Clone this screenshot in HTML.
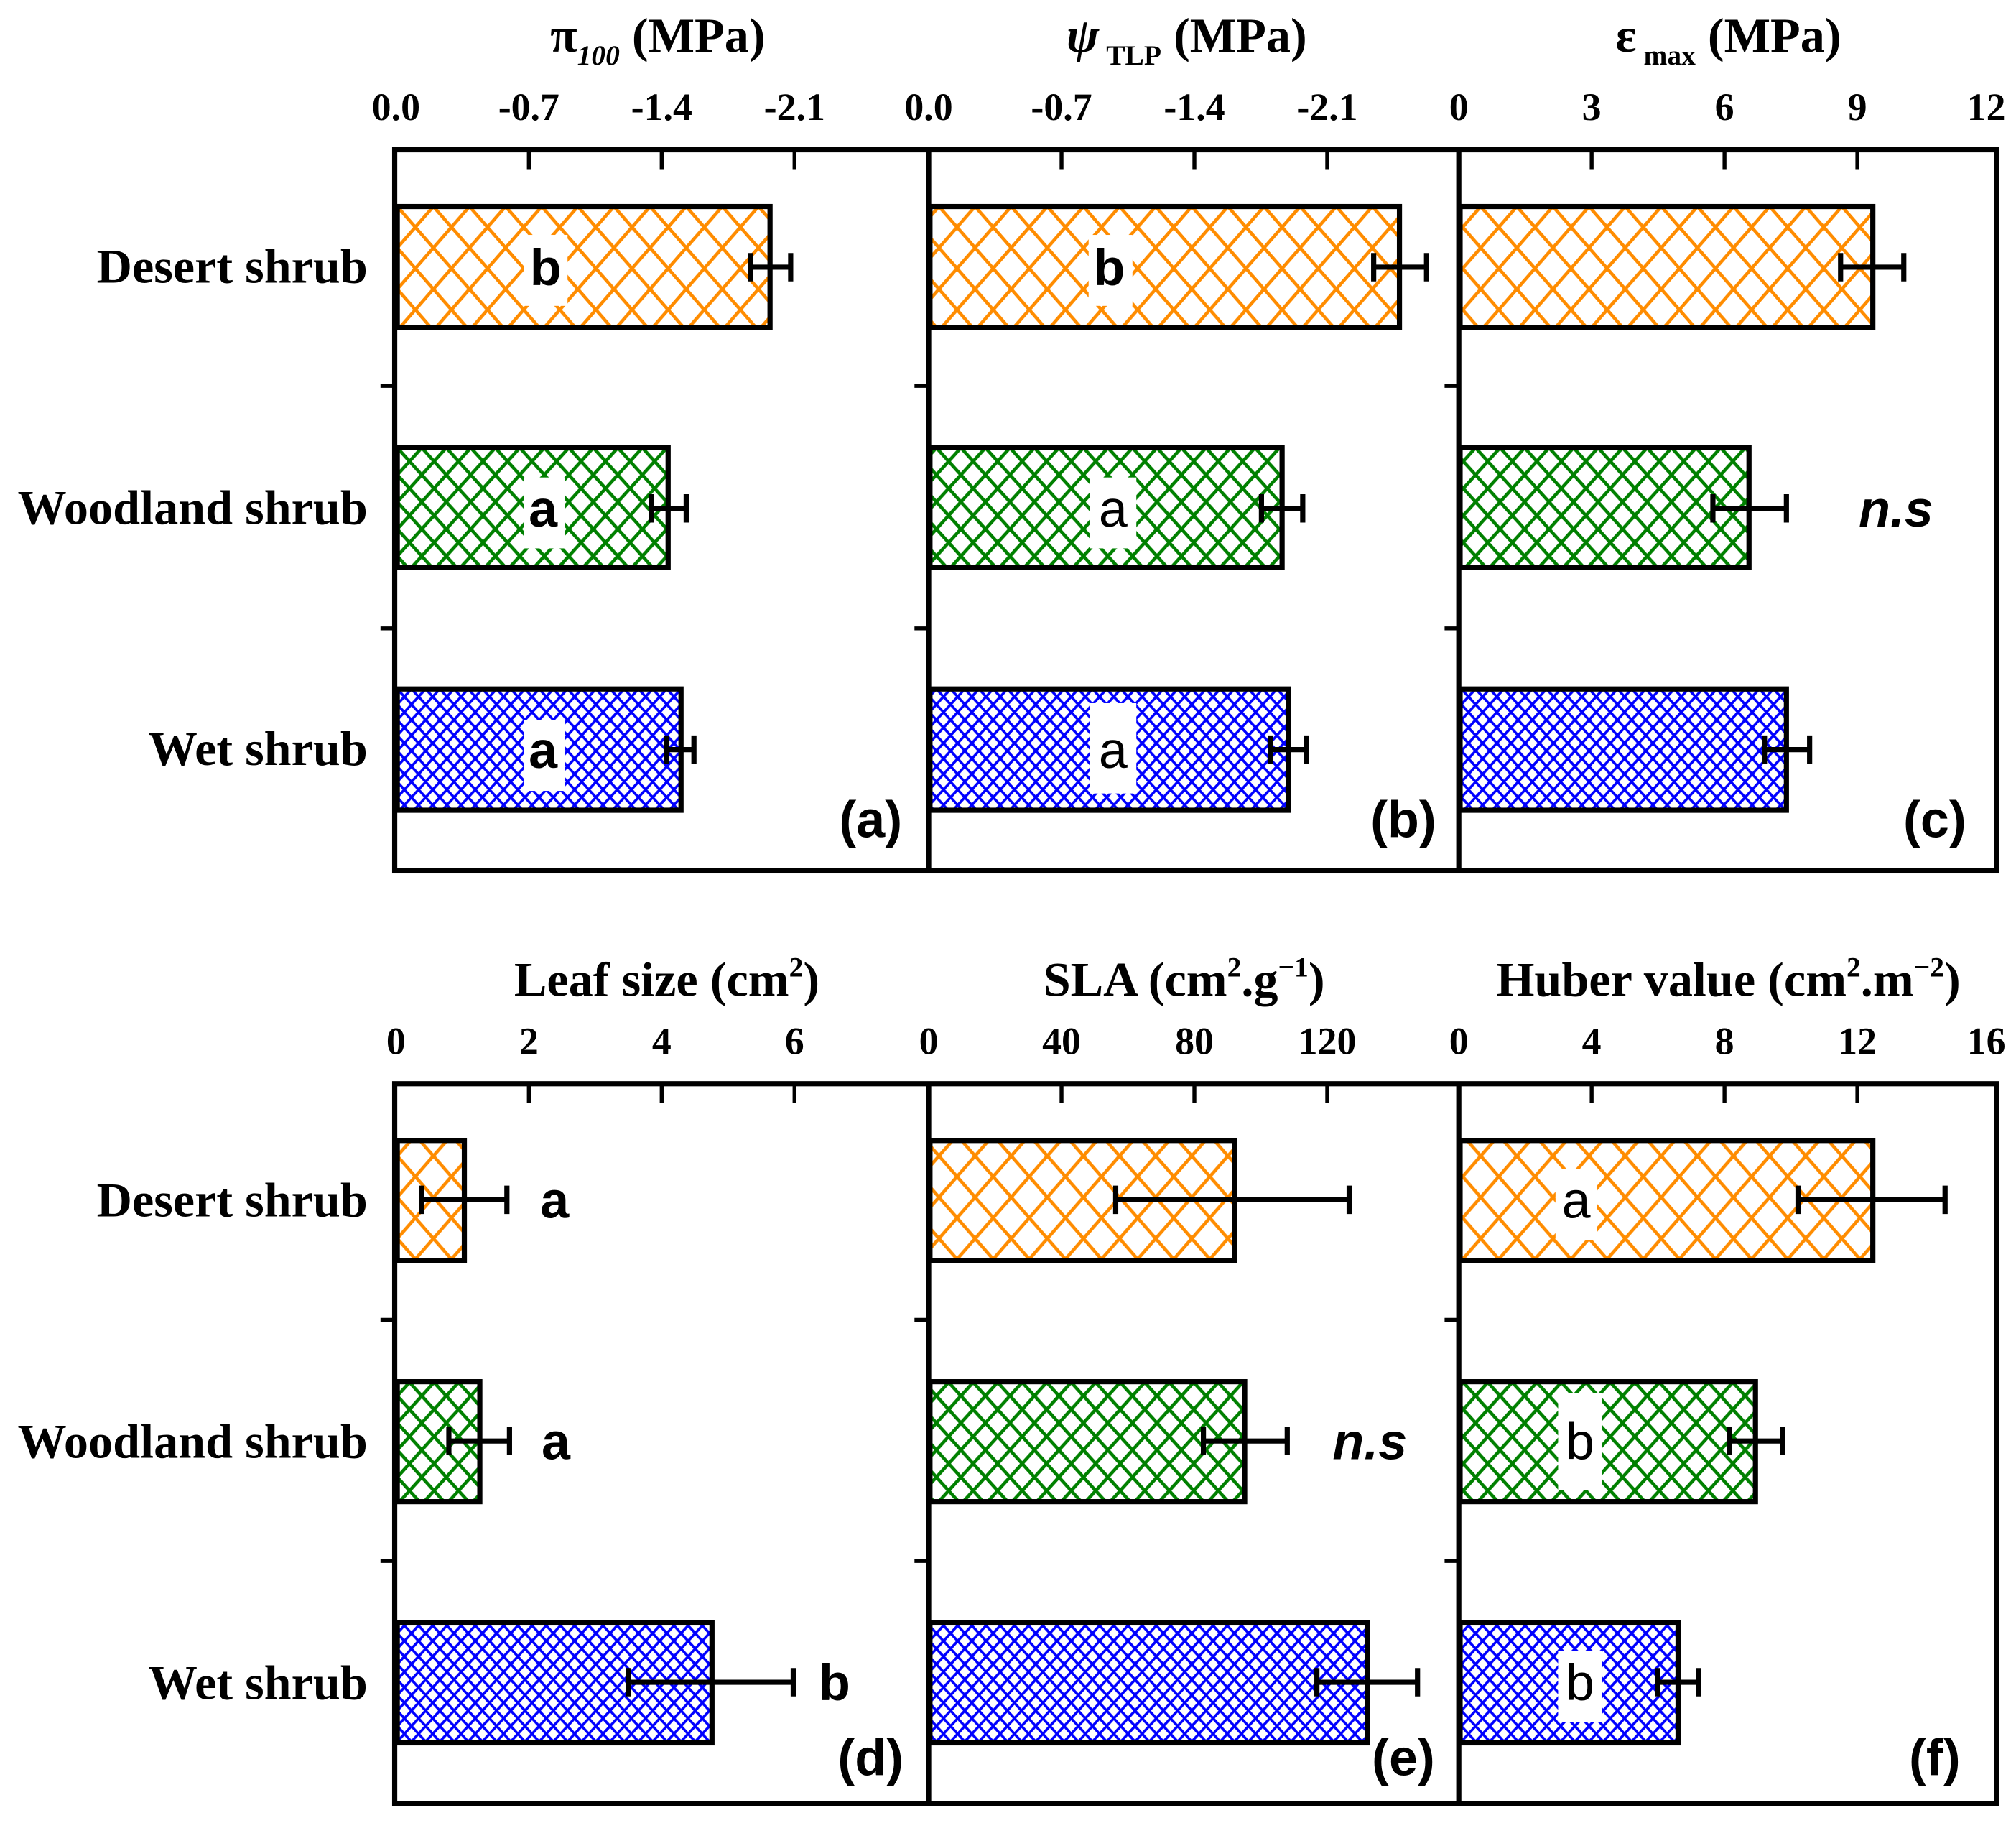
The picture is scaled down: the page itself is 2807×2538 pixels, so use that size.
<!DOCTYPE html>
<html><head><meta charset="utf-8"><style>html,body{margin:0;padding:0;background:#fff}svg{display:block}</style></head><body>
<svg width="2807" height="2538" viewBox="0 0 1563 1413" xmlns="http://www.w3.org/2000/svg">
<defs>
<pattern id="po" width="28" height="32" patternUnits="userSpaceOnUse" x="308" y="160"><path d="M0,0L28,32M28,0L0,32M-14,16L14,48M14,-16L42,16M14,-16L-14,16M42,16L14,48" stroke="#ff8c00" stroke-width="2.6" fill="none"/></pattern>
<pattern id="pg" width="19" height="21" patternUnits="userSpaceOnUse" x="308" y="347"><path d="M0,0L19,21M19,0L0,21" stroke="#008000" stroke-width="2.6" fill="none"/></pattern>
<pattern id="pb" width="11" height="12" patternUnits="userSpaceOnUse" x="308" y="534"><path d="M0,0L11,12M11,0L0,12" stroke="#0000ff" stroke-width="2" fill="none"/></pattern>
</defs>
<rect width="1563" height="1413" fill="#fff"/>
<g font-family="Liberation Serif, serif" font-weight="bold" fill="#000">
<text x="510" y="40" font-size="38" text-anchor="middle">π<tspan font-size="22" font-style="italic" dy="10">100</tspan><tspan dy="-10"> (MPa)</tspan></text>
<text x="920" y="40" font-size="38" text-anchor="middle"><tspan font-style="italic">ψ</tspan><tspan font-size="22" dy="10"> TLP</tspan><tspan dy="-10"> (MPa)</tspan></text>
<text x="1340" y="40" font-size="38" text-anchor="middle">ε<tspan font-size="22" dy="10"> max</tspan><tspan dy="-10"> (MPa)</tspan></text>
<text x="517" y="772" font-size="38" text-anchor="middle">Leaf size  (cm<tspan font-size="22" dy="-15">2</tspan><tspan dy="15">)</tspan></text>
<text x="918" y="772" font-size="38" text-anchor="middle">SLA (cm<tspan font-size="22" dy="-15">2</tspan><tspan dy="15">.g</tspan><tspan font-size="22" dy="-15">−1</tspan><tspan dy="15">)</tspan></text>
<text x="1340" y="772" font-size="38" text-anchor="middle">Huber value (cm<tspan font-size="22" dy="-15">2</tspan><tspan dy="15">.m</tspan><tspan font-size="22" dy="-15">−2</tspan><tspan dy="15">)</tspan></text>
<g font-size="30" text-anchor="middle">
<text x="307" y="93">0.0</text><text x="410" y="93">-0.7</text><text x="513" y="93">-1.4</text><text x="616" y="93">-2.1</text>
<text x="720" y="93">0.0</text><text x="823" y="93">-0.7</text><text x="926" y="93">-1.4</text><text x="1029" y="93">-2.1</text>
<text x="1131" y="93">0</text><text x="1234" y="93">3</text><text x="1337" y="93">6</text><text x="1440" y="93">9</text><text x="1540" y="93">12</text>
<text x="307" y="817">0</text><text x="410" y="817">2</text><text x="513" y="817">4</text><text x="616" y="817">6</text>
<text x="720" y="817">0</text><text x="823" y="817">40</text><text x="926" y="817">80</text><text x="1029" y="817">120</text>
<text x="1131" y="817">0</text><text x="1234" y="817">4</text><text x="1337" y="817">8</text><text x="1440" y="817">12</text><text x="1540" y="817">16</text>
</g>
<g font-size="38" text-anchor="end">
<text x="285" y="219">Desert shrub</text><text x="285" y="406">Woodland shrub</text><text x="285" y="593">Wet shrub</text>
<text x="285" y="943">Desert shrub</text><text x="285" y="1130">Woodland shrub</text><text x="285" y="1317">Wet shrub</text>
</g>
</g>
<g stroke="#000" fill="none" stroke-width="4">
<rect x="306" y="116" width="1242" height="559"/>
<line x1="720" y1="116" x2="720" y2="675"/><line x1="1131" y1="116" x2="1131" y2="675"/>
<rect x="306" y="840" width="1242" height="558"/>
<line x1="720" y1="840" x2="720" y2="1398"/><line x1="1131" y1="840" x2="1131" y2="1398"/>
<path d="M410,116v15M513,116v15M616,116v15M823,116v15M926,116v15M1029,116v15M1234,116v15M1337,116v15M1440,116v15M410,840v15M513,840v15M616,840v15M823,840v15M926,840v15M1029,840v15M1234,840v15M1337,840v15M1440,840v15" stroke-width="3"/>
<path d="M295,299h11M295,487h11M709,299h11M709,487h11M1120,299h11M1120,487h11M295,1023h11M295,1210h11M709,1023h11M709,1210h11M1120,1023h11M1120,1210h11" stroke-width="3"/>
</g>
<g stroke="#000" stroke-width="4">
<rect x="308" y="160" width="289" height="94" fill="url(#po)"/>
<rect x="308" y="347" width="210" height="93" fill="url(#pg)"/>
<rect x="308" y="534" width="220" height="94" fill="url(#pb)"/>
<rect x="721" y="160" width="364" height="94" fill="url(#po)"/>
<rect x="721" y="347" width="273" height="93" fill="url(#pg)"/>
<rect x="721" y="534" width="278" height="94" fill="url(#pb)"/>
<rect x="1132" y="160" width="320" height="94" fill="url(#po)"/>
<rect x="1132" y="347" width="224" height="93" fill="url(#pg)"/>
<rect x="1132" y="534" width="253" height="94" fill="url(#pb)"/>
<rect x="308" y="884" width="52" height="93" fill="url(#po)"/>
<rect x="308" y="1071" width="64" height="93" fill="url(#pg)"/>
<rect x="308" y="1258" width="244" height="93" fill="url(#pb)"/>
<rect x="721" y="884" width="236" height="93" fill="url(#po)"/>
<rect x="721" y="1071" width="244" height="93" fill="url(#pg)"/>
<rect x="721" y="1258" width="339" height="93" fill="url(#pb)"/>
<rect x="1132" y="884" width="320" height="93" fill="url(#po)"/>
<rect x="1132" y="1071" width="229" height="93" fill="url(#pg)"/>
<rect x="1132" y="1258" width="169" height="93" fill="url(#pb)"/>
</g>
<g fill="#fff">
<rect x="406" y="182" width="34" height="55"/><rect x="406" y="370" width="32" height="55"/><rect x="406" y="558" width="32" height="55"/>
<rect x="844" y="182" width="34" height="55"/><rect x="845" y="370" width="36" height="55"/><rect x="845" y="545" width="36" height="70"/>
<rect x="1206" y="906" width="32" height="55"/><rect x="1208" y="1080" width="34" height="75"/><rect x="1208" y="1280" width="34" height="55"/>
</g>
<g stroke="#000" stroke-width="4" fill="none">
<path d="M582,207h31M582,196v22M613,196v22"/>
<path d="M505,394h27M505,383v22M532,383v22"/>
<path d="M517,581h21M517,570v22M538,570v22"/>
<path d="M1065,207h41M1065,196v22M1106,196v22"/>
<path d="M978,394h32M978,383v22M1010,383v22"/>
<path d="M985,581h28M985,570v22M1013,570v22"/>
<path d="M1427,207h49M1427,196v22M1476,196v22"/>
<path d="M1328,394h57M1328,383v22M1385,383v22"/>
<path d="M1368,581h35M1368,570v22M1403,570v22"/>
<path d="M327,930h66M327,919v22M393,919v22"/>
<path d="M348,1117h47M348,1106v22M395,1106v22"/>
<path d="M487,1304h128M487,1293v22M615,1293v22"/>
<path d="M865,930h181M865,919v22M1046,919v22"/>
<path d="M933,1117h65M933,1106v22M998,1106v22"/>
<path d="M1021,1304h78M1021,1293v22M1099,1293v22"/>
<path d="M1394,930h114M1394,919v22M1508,919v22"/>
<path d="M1341,1117h41M1341,1106v22M1382,1106v22"/>
<path d="M1285,1304h32M1285,1293v22M1317,1293v22"/>
</g>
<g font-family="Liberation Sans, sans-serif" font-size="40" fill="#000" text-anchor="middle">
<text x="423" y="221" font-weight="bold">b</text><text x="421" y="408" font-weight="bold">a</text><text x="421" y="595" font-weight="bold">a</text>
<text x="860" y="221" font-weight="bold">b</text><text x="863" y="408">a</text><text x="863" y="595">a</text>
<text x="1470" y="408" font-weight="bold" font-style="italic">n.s</text>
<text x="430" y="944" font-weight="bold">a</text><text x="431" y="1131" font-weight="bold">a</text><text x="647" y="1318" font-weight="bold">b</text>
<text x="1062" y="1131" font-weight="bold" font-style="italic">n.s</text>
<text x="1222" y="944">a</text><text x="1225" y="1131">b</text><text x="1225" y="1318">b</text>
<g font-weight="bold">
<text x="675" y="649">(a)</text><text x="1088" y="649">(b)</text><text x="1500" y="649">(c)</text>
<text x="675" y="1376">(d)</text><text x="1088" y="1376">(e)</text><text x="1500" y="1376">(f)</text>
</g>
</g>
</svg>
</body></html>
